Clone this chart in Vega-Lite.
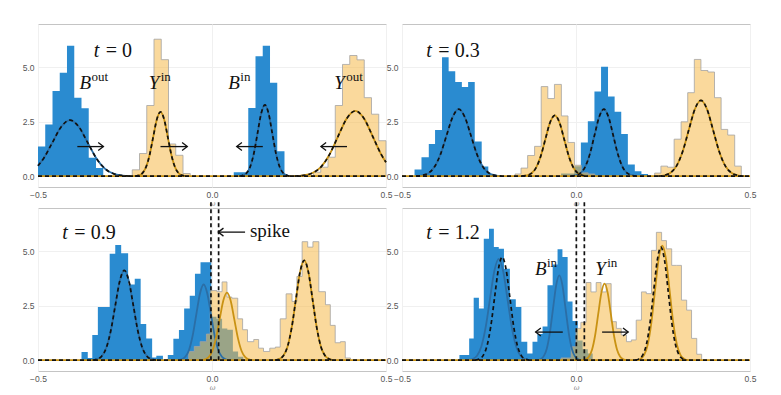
{
"$schema": "https://vega.github.io/schema/vega-lite/v6.json",
"autosize": {"type": "pad"},
"padding": {"left": 21, "top": 23, "right": 5, "bottom": 5},
"background": "white",
"data": {"values": [
{"k":"h","p":"a","g":"B1","x":-0.5,"y":1.36},{"k":"h","p":"a","g":"B1","x":-0.4792,"y":2.38},{"k":"h","p":"a","g":"B1","x":-0.4583,"y":3.92},{"k":"h","p":"a","g":"B1","x":-0.4375,"y":4.76},{"k":"h","p":"a","g":"B1","x":-0.4167,"y":6.0},{"k":"h","p":"a","g":"B1","x":-0.3958,"y":3.61},{"k":"h","p":"a","g":"B1","x":-0.375,"y":3.12},{"k":"h","p":"a","g":"B1","x":-0.3542,"y":0.85},{"k":"h","p":"a","g":"B1","x":-0.3333,"y":0.38},{"k":"h","p":"a","g":"B1","x":-0.3125,"y":0},
{"k":"h","p":"a","g":"Y1","x":-0.2292,"y":0.29},{"k":"h","p":"a","g":"Y1","x":-0.2083,"y":1.04},{"k":"h","p":"a","g":"Y1","x":-0.1875,"y":3.25},{"k":"h","p":"a","g":"Y1","x":-0.1667,"y":6.3},{"k":"h","p":"a","g":"Y1","x":-0.1458,"y":5.36},{"k":"h","p":"a","g":"Y1","x":-0.125,"y":1.48},{"k":"h","p":"a","g":"Y1","x":-0.1042,"y":0.96},{"k":"h","p":"a","g":"Y1","x":-0.0833,"y":0.12},{"k":"h","p":"a","g":"Y1","x":-0.0625,"y":0},
{"k":"h","p":"a","g":"B2","x":0.0625,"y":0.18},{"k":"h","p":"a","g":"B2","x":0.0833,"y":0.18},{"k":"h","p":"a","g":"B2","x":0.1042,"y":3.14},{"k":"h","p":"a","g":"B2","x":0.125,"y":5.52},{"k":"h","p":"a","g":"B2","x":0.1458,"y":6.0},{"k":"h","p":"a","g":"B2","x":0.1667,"y":4.3},{"k":"h","p":"a","g":"B2","x":0.1875,"y":1.14},{"k":"h","p":"a","g":"B2","x":0.2083,"y":0},
{"k":"h","p":"a","g":"Y2","x":0.2917,"y":0.18},{"k":"h","p":"a","g":"Y2","x":0.3125,"y":0.41},{"k":"h","p":"a","g":"Y2","x":0.3333,"y":0.87},{"k":"h","p":"a","g":"Y2","x":0.3542,"y":3.25},{"k":"h","p":"a","g":"Y2","x":0.375,"y":5.14},{"k":"h","p":"a","g":"Y2","x":0.3958,"y":5.55},{"k":"h","p":"a","g":"Y2","x":0.4167,"y":5.35},{"k":"h","p":"a","g":"Y2","x":0.4375,"y":3.61},{"k":"h","p":"a","g":"Y2","x":0.4583,"y":2.85},{"k":"h","p":"a","g":"Y2","x":0.4792,"y":1.63},{"k":"h","p":"a","g":"Y2","x":0.5,"y":0},

{"k":"h","p":"b","g":"B1","x":-0.464,"y":0.3},{"k":"h","p":"b","g":"B1","x":-0.444,"y":0.87},{"k":"h","p":"b","g":"B1","x":-0.423,"y":1.48},{"k":"h","p":"b","g":"B1","x":-0.405,"y":2.12},{"k":"h","p":"b","g":"B1","x":-0.385,"y":5.47},{"k":"h","p":"b","g":"B1","x":-0.366,"y":4.83},{"k":"h","p":"b","g":"B1","x":-0.347,"y":4.33},{"k":"h","p":"b","g":"B1","x":-0.328,"y":4.1},{"k":"h","p":"b","g":"B1","x":-0.31,"y":4.33},{"k":"h","p":"b","g":"B1","x":-0.291,"y":1.59},{"k":"h","p":"b","g":"B1","x":-0.271,"y":0.44},{"k":"h","p":"b","g":"B1","x":-0.252,"y":0.1},{"k":"h","p":"b","g":"B1","x":-0.233,"y":0},
{"k":"h","p":"b","g":"Y1","x":-0.175,"y":0.1},{"k":"h","p":"b","g":"Y1","x":-0.158,"y":0.37},{"k":"h","p":"b","g":"Y1","x":-0.139,"y":0.95},{"k":"h","p":"b","g":"Y1","x":-0.119,"y":1.37},{"k":"h","p":"b","g":"Y1","x":-0.1,"y":4.12},{"k":"h","p":"b","g":"Y1","x":-0.081,"y":3.57},{"k":"h","p":"b","g":"Y1","x":-0.062,"y":4.22},{"k":"h","p":"b","g":"Y1","x":-0.042,"y":2.77},{"k":"h","p":"b","g":"Y1","x":-0.023,"y":1.55},{"k":"h","p":"b","g":"Y1","x":-0.004,"y":0.5},{"k":"h","p":"b","g":"Y1","x":0.015,"y":0.15},{"k":"h","p":"b","g":"Y1","x":0.035,"y":0.1},{"k":"h","p":"b","g":"Y1","x":0.054,"y":0},
{"k":"h","p":"b","g":"B2","x":-0.043,"y":0.12},{"k":"h","p":"b","g":"B2","x":-0.024,"y":0.12},{"k":"h","p":"b","g":"B2","x":-0.005,"y":0.45},{"k":"h","p":"b","g":"B2","x":0.014,"y":1.55},{"k":"h","p":"b","g":"B2","x":0.034,"y":2.52},{"k":"h","p":"b","g":"B2","x":0.053,"y":3.89},{"k":"h","p":"b","g":"B2","x":0.072,"y":5.03},{"k":"h","p":"b","g":"B2","x":0.092,"y":3.66},{"k":"h","p":"b","g":"B2","x":0.111,"y":2.96},{"k":"h","p":"b","g":"B2","x":0.13,"y":1.94},{"k":"h","p":"b","g":"B2","x":0.149,"y":0.53},{"k":"h","p":"b","g":"B2","x":0.169,"y":0.23},{"k":"h","p":"b","g":"B2","x":0.188,"y":0.1},{"k":"h","p":"b","g":"B2","x":0.207,"y":0},
{"k":"h","p":"b","g":"Y2","x":0.226,"y":0.14},{"k":"h","p":"b","g":"Y2","x":0.244,"y":0.46},{"k":"h","p":"b","g":"Y2","x":0.263,"y":0.41},{"k":"h","p":"b","g":"Y2","x":0.282,"y":1.7},{"k":"h","p":"b","g":"Y2","x":0.302,"y":2.5},{"k":"h","p":"b","g":"Y2","x":0.321,"y":3.84},{"k":"h","p":"b","g":"Y2","x":0.34,"y":5.37},{"k":"h","p":"b","g":"Y2","x":0.359,"y":4.86},{"k":"h","p":"b","g":"Y2","x":0.379,"y":4.79},{"k":"h","p":"b","g":"Y2","x":0.398,"y":3.61},{"k":"h","p":"b","g":"Y2","x":0.417,"y":2.15},{"k":"h","p":"b","g":"Y2","x":0.436,"y":1.89},{"k":"h","p":"b","g":"Y2","x":0.456,"y":0.46},{"k":"h","p":"b","g":"Y2","x":0.475,"y":0},

{"k":"h","p":"c","g":"B","x":-0.375,"y":0.37},{"k":"h","p":"c","g":"B","x":-0.357,"y":0.1},{"k":"h","p":"c","g":"B","x":-0.344,"y":1.16},{"k":"h","p":"c","g":"B","x":-0.328,"y":2.45},{"k":"h","p":"c","g":"B","x":-0.311,"y":2.45},{"k":"h","p":"c","g":"B","x":-0.294,"y":4.9},{"k":"h","p":"c","g":"B","x":-0.278,"y":5.3},{"k":"h","p":"c","g":"B","x":-0.261,"y":4.92},{"k":"h","p":"c","g":"B","x":-0.241,"y":3.48},{"k":"h","p":"c","g":"B","x":-0.222,"y":3.75},{"k":"h","p":"c","g":"B","x":-0.205,"y":1.66},{"k":"h","p":"c","g":"B","x":-0.189,"y":1.0},{"k":"h","p":"c","g":"B","x":-0.172,"y":0.12},{"k":"h","p":"c","g":"B","x":-0.16,"y":0.2},{"k":"h","p":"c","g":"B","x":-0.141,"y":0},{"k":"h","p":"c","g":"B","x":-0.127,"y":0.24},{"k":"h","p":"c","g":"B","x":-0.111,"y":0.98},{"k":"h","p":"c","g":"B","x":-0.095,"y":1.39},{"k":"h","p":"c","g":"B","x":-0.08,"y":2.38},{"k":"h","p":"c","g":"B","x":-0.064,"y":2.96},{"k":"h","p":"c","g":"B","x":-0.049,"y":3.98},{"k":"h","p":"c","g":"B","x":-0.033,"y":4.5},{"k":"h","p":"c","g":"B","x":-0.018,"y":4.5},{"k":"h","p":"c","g":"B","x":-0.002,"y":2.0},{"k":"h","p":"c","g":"B","x":0.013,"y":1.9},{"k":"h","p":"c","g":"B","x":0.029,"y":1.45},{"k":"h","p":"c","g":"B","x":0.044,"y":1.4},{"k":"h","p":"c","g":"B","x":0.06,"y":0.4},{"k":"h","p":"c","g":"B","x":0.075,"y":0.15},{"k":"h","p":"c","g":"B","x":0.09,"y":0},
{"k":"h","p":"c","g":"Y","x":-0.067,"y":0.4},{"k":"h","p":"c","g":"Y","x":-0.051,"y":0.63},{"k":"h","p":"c","g":"Y","x":-0.034,"y":0.85},{"k":"h","p":"c","g":"Y","x":-0.016,"y":1.2},{"k":"h","p":"c","g":"Y","x":-0.005,"y":3.2},{"k":"h","p":"c","g":"Y","x":0.014,"y":3.15},{"k":"h","p":"c","g":"Y","x":0.029,"y":3.6},{"k":"h","p":"c","g":"Y","x":0.043,"y":2.9},{"k":"h","p":"c","g":"Y","x":0.057,"y":2.85},{"k":"h","p":"c","g":"Y","x":0.074,"y":1.9},{"k":"h","p":"c","g":"Y","x":0.088,"y":1.4},{"k":"h","p":"c","g":"Y","x":0.102,"y":0.85},{"k":"h","p":"c","g":"Y","x":0.12,"y":0.95},{"k":"h","p":"c","g":"Y","x":0.134,"y":0.55},{"k":"h","p":"c","g":"Y","x":0.148,"y":0.4},{"k":"h","p":"c","g":"Y","x":0.166,"y":0.55},{"k":"h","p":"c","g":"Y","x":0.182,"y":0.6},{"k":"h","p":"c","g":"Y","x":0.196,"y":1.9},{"k":"h","p":"c","g":"Y","x":0.213,"y":3.05},{"k":"h","p":"c","g":"Y","x":0.23,"y":2.7},{"k":"h","p":"c","g":"Y","x":0.244,"y":3.85},{"k":"h","p":"c","g":"Y","x":0.259,"y":5.45},{"k":"h","p":"c","g":"Y","x":0.275,"y":5.2},{"k":"h","p":"c","g":"Y","x":0.29,"y":5.45},{"k":"h","p":"c","g":"Y","x":0.307,"y":3.15},{"k":"h","p":"c","g":"Y","x":0.326,"y":2.55},{"k":"h","p":"c","g":"Y","x":0.34,"y":1.6},{"k":"h","p":"c","g":"Y","x":0.354,"y":0.8},{"k":"h","p":"c","g":"Y","x":0.369,"y":0.85},{"k":"h","p":"c","g":"Y","x":0.383,"y":0.1},{"k":"h","p":"c","g":"Y","x":0.398,"y":0},

{"k":"h","p":"d","g":"B","x":-0.335,"y":0.24},{"k":"h","p":"d","g":"B","x":-0.307,"y":1.0},{"k":"h","p":"d","g":"B","x":-0.294,"y":2.87},{"k":"h","p":"d","g":"B","x":-0.279,"y":2.38},{"k":"h","p":"d","g":"B","x":-0.265,"y":5.58},{"k":"h","p":"d","g":"B","x":-0.25,"y":6.04},{"k":"h","p":"d","g":"B","x":-0.236,"y":5.2},{"k":"h","p":"d","g":"B","x":-0.222,"y":5.12},{"k":"h","p":"d","g":"B","x":-0.207,"y":4.2},{"k":"h","p":"d","g":"B","x":-0.19,"y":2.8},{"k":"h","p":"d","g":"B","x":-0.173,"y":2.45},{"k":"h","p":"d","g":"B","x":-0.157,"y":0.85},{"k":"h","p":"d","g":"B","x":-0.14,"y":0.3},{"k":"h","p":"d","g":"B","x":-0.125,"y":0.85},{"k":"h","p":"d","g":"B","x":-0.111,"y":1.2},{"k":"h","p":"d","g":"B","x":-0.096,"y":1.55},{"k":"h","p":"d","g":"B","x":-0.082,"y":3.44},{"k":"h","p":"d","g":"B","x":-0.067,"y":4.4},{"k":"h","p":"d","g":"B","x":-0.053,"y":5.1},{"k":"h","p":"d","g":"B","x":-0.039,"y":4.75},{"k":"h","p":"d","g":"B","x":-0.024,"y":2.7},{"k":"h","p":"d","g":"B","x":-0.01,"y":1.8},{"k":"h","p":"d","g":"B","x":0.005,"y":0.9},{"k":"h","p":"d","g":"B","x":0.019,"y":0.5},{"k":"h","p":"d","g":"B","x":0.034,"y":0.3},{"k":"h","p":"d","g":"B","x":0.048,"y":0},
{"k":"h","p":"d","g":"Y","x":-0.043,"y":0.1},{"k":"h","p":"d","g":"Y","x":-0.014,"y":0.62},{"k":"h","p":"d","g":"Y","x":0.0,"y":1.46},{"k":"h","p":"d","g":"Y","x":0.014,"y":1.74},{"k":"h","p":"d","g":"Y","x":0.029,"y":3.57},{"k":"h","p":"d","g":"Y","x":0.043,"y":3.14},{"k":"h","p":"d","g":"Y","x":0.058,"y":3.57},{"k":"h","p":"d","g":"Y","x":0.072,"y":3.14},{"k":"h","p":"d","g":"Y","x":0.087,"y":3.52},{"k":"h","p":"d","g":"Y","x":0.101,"y":1.77},{"k":"h","p":"d","g":"Y","x":0.116,"y":1.46},{"k":"h","p":"d","g":"Y","x":0.13,"y":1.16},{"k":"h","p":"d","g":"Y","x":0.145,"y":0.85},{"k":"h","p":"d","g":"Y","x":0.159,"y":0.93},{"k":"h","p":"d","g":"Y","x":0.173,"y":1.84},{"k":"h","p":"d","g":"Y","x":0.188,"y":3.14},{"k":"h","p":"d","g":"Y","x":0.202,"y":3.06},{"k":"h","p":"d","g":"Y","x":0.217,"y":5.05},{"k":"h","p":"d","g":"Y","x":0.231,"y":5.88},{"k":"h","p":"d","g":"Y","x":0.246,"y":5.5},{"k":"h","p":"d","g":"Y","x":0.26,"y":5.12},{"k":"h","p":"d","g":"Y","x":0.275,"y":4.36},{"k":"h","p":"d","g":"Y","x":0.289,"y":4.36},{"k":"h","p":"d","g":"Y","x":0.303,"y":2.76},{"k":"h","p":"d","g":"Y","x":0.318,"y":2.3},{"k":"h","p":"d","g":"Y","x":0.332,"y":1.0},{"k":"h","p":"d","g":"Y","x":0.347,"y":0.27},{"k":"h","p":"d","g":"Y","x":0.361,"y":0},

{"k":"b","p":"a","g":"B1","x":-0.5,"y":0.475},{"k":"b","p":"a","g":"B1","x":-0.483,"y":0.838},{"k":"b","p":"a","g":"B1","x":-0.458,"y":1.566},{"k":"b","p":"a","g":"B1","x":-0.433,"y":2.276},{"k":"b","p":"a","g":"B1","x":-0.408,"y":2.58},{"k":"b","p":"a","g":"B1","x":-0.383,"y":2.276},{"k":"b","p":"a","g":"B1","x":-0.358,"y":1.566},{"k":"b","p":"a","g":"B1","x":-0.333,"y":0.838},{"k":"b","p":"a","g":"B1","x":-0.308,"y":0.349},{"k":"b","p":"a","g":"B1","x":-0.283,"y":0.113},{"k":"b","p":"a","g":"B1","x":-0.258,"y":0.028},{"k":"b","p":"a","g":"B1","x":-0.233,"y":0},
{"k":"b","p":"a","g":"Y1","x":-0.2215,"y":0},{"k":"b","p":"a","g":"Y1","x":-0.211,"y":0.033},{"k":"b","p":"a","g":"Y1","x":-0.2005,"y":0.13},{"k":"b","p":"a","g":"Y1","x":-0.19,"y":0.4},{"k":"b","p":"a","g":"Y1","x":-0.1795,"y":0.962},{"k":"b","p":"a","g":"Y1","x":-0.169,"y":1.797},{"k":"b","p":"a","g":"Y1","x":-0.1585,"y":2.611},{"k":"b","p":"a","g":"Y1","x":-0.148,"y":2.96},{"k":"b","p":"a","g":"Y1","x":-0.1375,"y":2.611},{"k":"b","p":"a","g":"Y1","x":-0.127,"y":1.797},{"k":"b","p":"a","g":"Y1","x":-0.1165,"y":0.962},{"k":"b","p":"a","g":"Y1","x":-0.106,"y":0.4},{"k":"b","p":"a","g":"Y1","x":-0.0955,"y":0.13},{"k":"b","p":"a","g":"Y1","x":-0.085,"y":0.033},{"k":"b","p":"a","g":"Y1","x":-0.0745,"y":0},
{"k":"b","p":"a","g":"B2","x":0.0785,"y":0},{"k":"b","p":"a","g":"B2","x":0.089,"y":0.036},{"k":"b","p":"a","g":"B2","x":0.0995,"y":0.144},{"k":"b","p":"a","g":"B2","x":0.11,"y":0.443},{"k":"b","p":"a","g":"B2","x":0.1205,"y":1.066},{"k":"b","p":"a","g":"B2","x":0.131,"y":1.991},{"k":"b","p":"a","g":"B2","x":0.1415,"y":2.893},{"k":"b","p":"a","g":"B2","x":0.152,"y":3.28},{"k":"b","p":"a","g":"B2","x":0.1625,"y":2.893},{"k":"b","p":"a","g":"B2","x":0.173,"y":1.991},{"k":"b","p":"a","g":"B2","x":0.1835,"y":1.066},{"k":"b","p":"a","g":"B2","x":0.194,"y":0.443},{"k":"b","p":"a","g":"B2","x":0.2045,"y":0.144},{"k":"b","p":"a","g":"B2","x":0.215,"y":0.036},{"k":"b","p":"a","g":"B2","x":0.2255,"y":0},
{"k":"b","p":"a","g":"Y2","x":0.237,"y":0},{"k":"b","p":"a","g":"Y2","x":0.262,"y":0.033},{"k":"b","p":"a","g":"Y2","x":0.287,"y":0.132},{"k":"b","p":"a","g":"Y2","x":0.312,"y":0.405},{"k":"b","p":"a","g":"Y2","x":0.337,"y":0.975},{"k":"b","p":"a","g":"Y2","x":0.362,"y":1.821},{"k":"b","p":"a","g":"Y2","x":0.387,"y":2.646},{"k":"b","p":"a","g":"Y2","x":0.412,"y":3.0},{"k":"b","p":"a","g":"Y2","x":0.437,"y":2.646},{"k":"b","p":"a","g":"Y2","x":0.462,"y":1.821},{"k":"b","p":"a","g":"Y2","x":0.487,"y":0.975},{"k":"b","p":"a","g":"Y2","x":0.5,"y":0.637},

{"k":"b","p":"b","g":"B1","x":-0.4595,"y":0},{"k":"b","p":"b","g":"B1","x":-0.442,"y":0.034},{"k":"b","p":"b","g":"B1","x":-0.4245,"y":0.136},{"k":"b","p":"b","g":"B1","x":-0.407,"y":0.416},{"k":"b","p":"b","g":"B1","x":-0.3895,"y":1.001},{"k":"b","p":"b","g":"B1","x":-0.372,"y":1.87},{"k":"b","p":"b","g":"B1","x":-0.3545,"y":2.717},{"k":"b","p":"b","g":"B1","x":-0.337,"y":3.08},{"k":"b","p":"b","g":"B1","x":-0.3195,"y":2.717},{"k":"b","p":"b","g":"B1","x":-0.302,"y":1.87},{"k":"b","p":"b","g":"B1","x":-0.2845,"y":1.001},{"k":"b","p":"b","g":"B1","x":-0.267,"y":0.416},{"k":"b","p":"b","g":"B1","x":-0.2495,"y":0.136},{"k":"b","p":"b","g":"B1","x":-0.232,"y":0.034},{"k":"b","p":"b","g":"B1","x":-0.2145,"y":0},
{"k":"b","p":"b","g":"Y1","x":-0.1555,"y":0},{"k":"b","p":"b","g":"Y1","x":-0.142,"y":0.031},{"k":"b","p":"b","g":"Y1","x":-0.1285,"y":0.123},{"k":"b","p":"b","g":"Y1","x":-0.115,"y":0.378},{"k":"b","p":"b","g":"Y1","x":-0.1015,"y":0.91},{"k":"b","p":"b","g":"Y1","x":-0.088,"y":1.7},{"k":"b","p":"b","g":"Y1","x":-0.0745,"y":2.47},{"k":"b","p":"b","g":"Y1","x":-0.061,"y":2.8},{"k":"b","p":"b","g":"Y1","x":-0.0475,"y":2.47},{"k":"b","p":"b","g":"Y1","x":-0.034,"y":1.7},{"k":"b","p":"b","g":"Y1","x":-0.0205,"y":0.91},{"k":"b","p":"b","g":"Y1","x":-0.007,"y":0.378},{"k":"b","p":"b","g":"Y1","x":0.0065,"y":0.123},{"k":"b","p":"b","g":"Y1","x":0.02,"y":0.031},{"k":"b","p":"b","g":"Y1","x":0.0335,"y":0},
{"k":"b","p":"b","g":"B2","x":-0.0145,"y":0},{"k":"b","p":"b","g":"B2","x":-0.001,"y":0.034},{"k":"b","p":"b","g":"B2","x":0.0125,"y":0.136},{"k":"b","p":"b","g":"B2","x":0.026,"y":0.416},{"k":"b","p":"b","g":"B2","x":0.0395,"y":1.001},{"k":"b","p":"b","g":"B2","x":0.053,"y":1.87},{"k":"b","p":"b","g":"B2","x":0.0665,"y":2.717},{"k":"b","p":"b","g":"B2","x":0.08,"y":3.08},{"k":"b","p":"b","g":"B2","x":0.0935,"y":2.717},{"k":"b","p":"b","g":"B2","x":0.107,"y":1.87},{"k":"b","p":"b","g":"B2","x":0.1205,"y":1.001},{"k":"b","p":"b","g":"B2","x":0.134,"y":0.416},{"k":"b","p":"b","g":"B2","x":0.1475,"y":0.136},{"k":"b","p":"b","g":"B2","x":0.161,"y":0.034},{"k":"b","p":"b","g":"B2","x":0.1745,"y":0},
{"k":"b","p":"b","g":"Y2","x":0.2365,"y":0},{"k":"b","p":"b","g":"Y2","x":0.254,"y":0.038},{"k":"b","p":"b","g":"Y2","x":0.2715,"y":0.154},{"k":"b","p":"b","g":"Y2","x":0.289,"y":0.471},{"k":"b","p":"b","g":"Y2","x":0.3065,"y":1.134},{"k":"b","p":"b","g":"Y2","x":0.324,"y":2.118},{"k":"b","p":"b","g":"Y2","x":0.3415,"y":3.078},{"k":"b","p":"b","g":"Y2","x":0.359,"y":3.49},{"k":"b","p":"b","g":"Y2","x":0.3765,"y":3.078},{"k":"b","p":"b","g":"Y2","x":0.394,"y":2.118},{"k":"b","p":"b","g":"Y2","x":0.4115,"y":1.134},{"k":"b","p":"b","g":"Y2","x":0.429,"y":0.471},{"k":"b","p":"b","g":"Y2","x":0.4465,"y":0.154},{"k":"b","p":"b","g":"Y2","x":0.464,"y":0.038},{"k":"b","p":"b","g":"Y2","x":0.4815,"y":0},

{"k":"b","p":"c","g":"B1","x":-0.343,"y":0},{"k":"b","p":"c","g":"B1","x":-0.33,"y":0.045},{"k":"b","p":"c","g":"B1","x":-0.317,"y":0.182},{"k":"b","p":"c","g":"B1","x":-0.304,"y":0.558},{"k":"b","p":"c","g":"B1","x":-0.291,"y":1.342},{"k":"b","p":"c","g":"B1","x":-0.278,"y":2.507},{"k":"b","p":"c","g":"B1","x":-0.265,"y":3.643},{"k":"b","p":"c","g":"B1","x":-0.252,"y":4.13},{"k":"b","p":"c","g":"B1","x":-0.239,"y":3.643},{"k":"b","p":"c","g":"B1","x":-0.226,"y":2.507},{"k":"b","p":"c","g":"B1","x":-0.213,"y":1.342},{"k":"b","p":"c","g":"B1","x":-0.2,"y":0.558},{"k":"b","p":"c","g":"B1","x":-0.187,"y":0.182},{"k":"b","p":"c","g":"B1","x":-0.174,"y":0.045},{"k":"b","p":"c","g":"B1","x":-0.161,"y":0},
{"k":"s","p":"c","g":"B2","x":-0.0975,"y":0},{"k":"s","p":"c","g":"B2","x":-0.087,"y":0.038},{"k":"s","p":"c","g":"B2","x":-0.0765,"y":0.153},{"k":"s","p":"c","g":"B2","x":-0.066,"y":0.47},{"k":"s","p":"c","g":"B2","x":-0.0555,"y":1.131},{"k":"s","p":"c","g":"B2","x":-0.045,"y":2.112},{"k":"s","p":"c","g":"B2","x":-0.0345,"y":3.069},{"k":"s","p":"c","g":"B2","x":-0.024,"y":3.48},{"k":"s","p":"c","g":"B2","x":-0.0135,"y":3.069},{"k":"s","p":"c","g":"B2","x":-0.003,"y":2.112},{"k":"s","p":"c","g":"B2","x":0.0075,"y":1.131},{"k":"s","p":"c","g":"B2","x":0.018,"y":0.47},{"k":"s","p":"c","g":"B2","x":0.0285,"y":0.153},{"k":"s","p":"c","g":"B2","x":0.039,"y":0.038},{"k":"s","p":"c","g":"B2","x":0.0495,"y":0},
{"k":"s","p":"c","g":"Y1","x":-0.0305,"y":0},{"k":"s","p":"c","g":"Y1","x":-0.02,"y":0.034},{"k":"s","p":"c","g":"Y1","x":-0.0095,"y":0.137},{"k":"s","p":"c","g":"Y1","x":0.001,"y":0.42},{"k":"s","p":"c","g":"Y1","x":0.0115,"y":1.011},{"k":"s","p":"c","g":"Y1","x":0.022,"y":1.888},{"k":"s","p":"c","g":"Y1","x":0.0325,"y":2.743},{"k":"s","p":"c","g":"Y1","x":0.043,"y":3.11},{"k":"s","p":"c","g":"Y1","x":0.0535,"y":2.743},{"k":"s","p":"c","g":"Y1","x":0.064,"y":1.888},{"k":"s","p":"c","g":"Y1","x":0.0745,"y":1.011},{"k":"s","p":"c","g":"Y1","x":0.085,"y":0.42},{"k":"s","p":"c","g":"Y1","x":0.0955,"y":0.137},{"k":"s","p":"c","g":"Y1","x":0.106,"y":0.034},{"k":"s","p":"c","g":"Y1","x":0.1165,"y":0},
{"k":"b","p":"c","g":"Y2","x":0.181,"y":0},{"k":"b","p":"c","g":"Y2","x":0.193,"y":0.05},{"k":"b","p":"c","g":"Y2","x":0.205,"y":0.202},{"k":"b","p":"c","g":"Y2","x":0.217,"y":0.62},{"k":"b","p":"c","g":"Y2","x":0.229,"y":1.492},{"k":"b","p":"c","g":"Y2","x":0.241,"y":2.786},{"k":"b","p":"c","g":"Y2","x":0.253,"y":4.048},{"k":"b","p":"c","g":"Y2","x":0.265,"y":4.59},{"k":"b","p":"c","g":"Y2","x":0.277,"y":4.048},{"k":"b","p":"c","g":"Y2","x":0.289,"y":2.786},{"k":"b","p":"c","g":"Y2","x":0.301,"y":1.492},{"k":"b","p":"c","g":"Y2","x":0.313,"y":0.62},{"k":"b","p":"c","g":"Y2","x":0.325,"y":0.202},{"k":"b","p":"c","g":"Y2","x":0.337,"y":0.05},{"k":"b","p":"c","g":"Y2","x":0.349,"y":0},

{"k":"s","p":"d","g":"B1","x":-0.3095,"y":0},{"k":"s","p":"d","g":"B1","x":-0.297,"y":0.051},{"k":"s","p":"d","g":"B1","x":-0.2845,"y":0.205},{"k":"s","p":"d","g":"B1","x":-0.272,"y":0.629},{"k":"s","p":"d","g":"B1","x":-0.2595,"y":1.515},{"k":"s","p":"d","g":"B1","x":-0.247,"y":2.829},{"k":"s","p":"d","g":"B1","x":-0.2345,"y":4.11},{"k":"s","p":"d","g":"B1","x":-0.222,"y":4.66},{"k":"s","p":"d","g":"B1","x":-0.2095,"y":4.11},{"k":"s","p":"d","g":"B1","x":-0.197,"y":2.829},{"k":"s","p":"d","g":"B1","x":-0.1845,"y":1.515},{"k":"s","p":"d","g":"B1","x":-0.172,"y":0.629},{"k":"s","p":"d","g":"B1","x":-0.1595,"y":0.205},{"k":"s","p":"d","g":"B1","x":-0.147,"y":0.051},{"k":"s","p":"d","g":"B1","x":-0.1345,"y":0},
{"k":"d","p":"d","g":"B1","x":-0.289,"y":0},{"k":"d","p":"d","g":"B1","x":-0.278,"y":0.052},{"k":"d","p":"d","g":"B1","x":-0.267,"y":0.209},{"k":"d","p":"d","g":"B1","x":-0.256,"y":0.64},{"k":"d","p":"d","g":"B1","x":-0.245,"y":1.541},{"k":"d","p":"d","g":"B1","x":-0.234,"y":2.877},{"k":"d","p":"d","g":"B1","x":-0.223,"y":4.181},{"k":"d","p":"d","g":"B1","x":-0.212,"y":4.74},{"k":"d","p":"d","g":"B1","x":-0.201,"y":4.181},{"k":"d","p":"d","g":"B1","x":-0.19,"y":2.877},{"k":"d","p":"d","g":"B1","x":-0.179,"y":1.541},{"k":"d","p":"d","g":"B1","x":-0.168,"y":0.64},{"k":"d","p":"d","g":"B1","x":-0.157,"y":0.209},{"k":"d","p":"d","g":"B1","x":-0.146,"y":0.052},{"k":"d","p":"d","g":"B1","x":-0.135,"y":0},
{"k":"s","p":"d","g":"B2","x":-0.111,"y":0},{"k":"s","p":"d","g":"B2","x":-0.102,"y":0.043},{"k":"s","p":"d","g":"B2","x":-0.093,"y":0.172},{"k":"s","p":"d","g":"B2","x":-0.084,"y":0.527},{"k":"s","p":"d","g":"B2","x":-0.075,"y":1.268},{"k":"s","p":"d","g":"B2","x":-0.066,"y":2.367},{"k":"s","p":"d","g":"B2","x":-0.057,"y":3.44},{"k":"s","p":"d","g":"B2","x":-0.048,"y":3.9},{"k":"s","p":"d","g":"B2","x":-0.039,"y":3.44},{"k":"s","p":"d","g":"B2","x":-0.03,"y":2.367},{"k":"s","p":"d","g":"B2","x":-0.021,"y":1.268},{"k":"s","p":"d","g":"B2","x":-0.012,"y":0.527},{"k":"s","p":"d","g":"B2","x":-0.003,"y":0.172},{"k":"s","p":"d","g":"B2","x":0.006,"y":0.043},{"k":"s","p":"d","g":"B2","x":0.015,"y":0},
{"k":"s","p":"d","g":"Y1","x":0.019,"y":0},{"k":"s","p":"d","g":"Y1","x":0.028,"y":0.039},{"k":"s","p":"d","g":"Y1","x":0.037,"y":0.155},{"k":"s","p":"d","g":"Y1","x":0.046,"y":0.475},{"k":"s","p":"d","g":"Y1","x":0.055,"y":1.144},{"k":"s","p":"d","g":"Y1","x":0.064,"y":2.137},{"k":"s","p":"d","g":"Y1","x":0.073,"y":3.105},{"k":"s","p":"d","g":"Y1","x":0.082,"y":3.52},{"k":"s","p":"d","g":"Y1","x":0.091,"y":3.105},{"k":"s","p":"d","g":"Y1","x":0.1,"y":2.137},{"k":"s","p":"d","g":"Y1","x":0.109,"y":1.144},{"k":"s","p":"d","g":"Y1","x":0.118,"y":0.475},{"k":"s","p":"d","g":"Y1","x":0.127,"y":0.155},{"k":"s","p":"d","g":"Y1","x":0.136,"y":0.039},{"k":"s","p":"d","g":"Y1","x":0.145,"y":0},
{"k":"s","p":"d","g":"Y2","x":0.1745,"y":0},{"k":"s","p":"d","g":"Y2","x":0.185,"y":0.058},{"k":"s","p":"d","g":"Y2","x":0.1955,"y":0.232},{"k":"s","p":"d","g":"Y2","x":0.206,"y":0.711},{"k":"s","p":"d","g":"Y2","x":0.2165,"y":1.713},{"k":"s","p":"d","g":"Y2","x":0.227,"y":3.199},{"k":"s","p":"d","g":"Y2","x":0.2375,"y":4.648},{"k":"s","p":"d","g":"Y2","x":0.248,"y":5.27},{"k":"s","p":"d","g":"Y2","x":0.2585,"y":4.648},{"k":"s","p":"d","g":"Y2","x":0.269,"y":3.199},{"k":"s","p":"d","g":"Y2","x":0.2795,"y":1.713},{"k":"s","p":"d","g":"Y2","x":0.29,"y":0.711},{"k":"s","p":"d","g":"Y2","x":0.3005,"y":0.232},{"k":"s","p":"d","g":"Y2","x":0.311,"y":0.058},{"k":"s","p":"d","g":"Y2","x":0.3215,"y":0},
{"k":"d","p":"d","g":"Y2","x":0.1705,"y":0},{"k":"d","p":"d","g":"Y2","x":0.181,"y":0.057},{"k":"d","p":"d","g":"Y2","x":0.1915,"y":0.229},{"k":"d","p":"d","g":"Y2","x":0.202,"y":0.702},{"k":"d","p":"d","g":"Y2","x":0.2125,"y":1.69},{"k":"d","p":"d","g":"Y2","x":0.223,"y":3.156},{"k":"d","p":"d","g":"Y2","x":0.2335,"y":4.586},{"k":"d","p":"d","g":"Y2","x":0.244,"y":5.2},{"k":"d","p":"d","g":"Y2","x":0.2545,"y":4.586},{"k":"d","p":"d","g":"Y2","x":0.265,"y":3.156},{"k":"d","p":"d","g":"Y2","x":0.2755,"y":1.69},{"k":"d","p":"d","g":"Y2","x":0.286,"y":0.702},{"k":"d","p":"d","g":"Y2","x":0.2965,"y":0.229},{"k":"d","p":"d","g":"Y2","x":0.307,"y":0.057},{"k":"d","p":"d","g":"Y2","x":0.3175,"y":0},

{"k":"sp","p":"c","x":-0.003,"y":0,"y2":7.35},{"k":"sp","p":"c","x":0.019,"y":0,"y2":7.35},
{"k":"sp","p":"d","x":0.001,"y":0,"y2":7.35},{"k":"sp","p":"d","x":0.024,"y":0,"y2":7.35},

{"k":"ar","p":"a","x":-0.387,"x2":-0.312,"y":1.36,"d":"r"},{"k":"ar","p":"a","x":-0.148,"x2":-0.071,"y":1.36,"d":"r"},{"k":"ar","p":"a","x":0.146,"x2":0.071,"y":1.36,"d":"l"},{"k":"ar","p":"a","x":0.388,"x2":0.313,"y":1.36,"d":"l"},
{"k":"ar","p":"c","x":0.095,"x2":0.018,"y":5.89,"d":"l"},
{"k":"ar","p":"d","x":-0.038,"x2":-0.116,"y":1.29,"d":"l"},{"k":"ar","p":"d","x":0.075,"x2":0.15,"y":1.29,"d":"r"},

{"k":"t","p":"a","x":-0.34,"y":5.5,"v":"= 0"},{"k":"t","p":"b","x":-0.43,"y":5.5,"v":"= 0.3"},{"k":"t","p":"c","x":-0.43,"y":5.56,"v":"= 0.9"},{"k":"t","p":"d","x":-0.43,"y":5.56,"v":"= 1.2"},

{"k":"lb","p":"a","x":-0.381,"y":3.99,"m":"B","s":"out"},{"k":"lb","p":"a","x":-0.182,"y":3.99,"m":"Y","s":"in"},{"k":"lb","p":"a","x":0.047,"y":3.99,"m":"B","s":"in"},{"k":"lb","p":"a","x":0.351,"y":3.99,"m":"Y","s":"out"},
{"k":"lb","p":"d","x":-0.118,"y":3.94,"m":"B","s":"in"},{"k":"lb","p":"d","x":0.055,"y":3.94,"m":"Y","s":"in"},

{"k":"tx","p":"c","x":0.109,"y":5.68,"v":"spike"}
]},
"facet": {"field": "p", "type": "nominal", "title": null, "header": {"title": null, "labels": false, "labelExpr": "''", "labelFontSize": 0, "labelPadding": 0, "titlePadding": 0, "labelColor": "transparent"}},
"columns": 2,
"spacing": {"row": 21, "column": 16},
"bounds": "flush",
"resolve": {"axis": {"x": "independent", "y": "independent"}},
"spec": {
  "width": 348,
  "height": 163,
  "encoding": {
    "x": {"field": "x", "type": "quantitative", "scale": {"domain": [-0.5, 0.5], "nice": false, "zero": false}, "axis": {"values": [-0.5, 0, 0.5], "format": ".1f", "title": "ω"}},
    "y": {"field": "y", "type": "quantitative", "scale": {"domain": [-0.5, 7], "nice": false, "zero": false}, "axis": {"values": [0, 2.5, 5], "format": ".1f", "title": null}}
  },
  "layer": [
    {"transform": [{"filter": "datum.k=='h'&&datum.g[0]=='B'"}],
     "mark": {"type": "area", "interpolate": "step-after", "fill": "#2a8bd0", "opacity": 1},
     "encoding": {"y2": {"datum": 0}, "detail": {"field": "g"}}},
    {"transform": [{"filter": "datum.k=='h'&&datum.g[0]=='Y'"}],
     "mark": {"type": "area", "interpolate": "step-after", "fill": "#f5b94a", "fillOpacity": 0.55, "stroke": "#a3a3a3", "strokeWidth": 0.8, "opacity": 1},
     "encoding": {"y2": {"datum": 0}, "detail": {"field": "g"}}},
    {"transform": [{"filter": "(datum.k=='s'||datum.k=='b')&&datum.g[0]=='B'"}],
     "mark": {"type": "line", "interpolate": "monotone", "stroke": "#2b6ea6", "strokeWidth": 1.8},
     "encoding": {"detail": {"field": "g"}}},
    {"transform": [{"filter": "(datum.k=='s'||datum.k=='b')&&datum.g[0]=='Y'"}],
     "mark": {"type": "line", "interpolate": "monotone", "stroke": "#c99213", "strokeWidth": 1.8},
     "encoding": {"detail": {"field": "g"}}},
    {"transform": [{"filter": "datum.k=='t'"}],
     "mark": {"type": "rule", "stroke": "#c99213", "strokeWidth": 1.6},
     "encoding": {"x": {"datum": -0.5}, "x2": {"datum": 0.5}, "y": {"datum": 0}}},
    {"transform": [{"filter": "datum.k=='t'"}],
     "mark": {"type": "rule", "stroke": "#111111", "strokeWidth": 1.6, "strokeDash": [4, 3]},
     "encoding": {"x": {"datum": -0.5}, "x2": {"datum": 0.5}, "y": {"datum": 0}}},
    {"transform": [{"filter": "datum.k=='d'||datum.k=='b'"}],
     "mark": {"type": "line", "interpolate": "monotone", "stroke": "#111111", "strokeWidth": 1.7, "strokeDash": [4, 3]},
     "encoding": {"detail": {"field": "g"}}},
    {"transform": [{"filter": "datum.k=='sp'"}],
     "mark": {"type": "rule", "stroke": "#111111", "strokeWidth": 1.7, "strokeDash": [4, 3], "clip": false},
     "encoding": {"y2": {"field": "y2"}}},
    {"transform": [{"filter": "datum.k=='ar'"}],
     "mark": {"type": "rule", "stroke": "#111111", "strokeWidth": 1.3},
     "encoding": {"x2": {"field": "x2"}}},
    {"transform": [{"filter": "datum.k=='ar'"}],
     "mark": {"type": "point", "filled": false, "stroke": "#111111", "strokeWidth": 1.3, "size": 64, "opacity": 1},
     "encoding": {
       "x": {"field": "x2", "type": "quantitative", "scale": {"domain": [-0.5, 0.5], "nice": false, "zero": false}, "axis": {"values": [-0.5, 0, 0.5], "format": ".1f", "title": "ω"}},
       "shape": {"field": "d", "type": "nominal", "scale": {"domain": ["r", "l"], "range": ["M-1.3,-1L0,0L-1.3,1", "M1.3,-1L0,0L1.3,1"]}, "legend": null}}},
    {"transform": [{"filter": "datum.k=='t'"}],
     "mark": {"type": "text", "text": "t", "font": "Liberation Serif", "fontStyle": "italic", "fontSize": 20, "align": "left", "baseline": "alphabetic", "color": "#111111"}},
    {"transform": [{"filter": "datum.k=='t'"}],
     "mark": {"type": "text", "font": "Liberation Serif", "fontSize": 20, "align": "left", "baseline": "alphabetic", "dx": 12, "color": "#111111"},
     "encoding": {"text": {"field": "v"}}},
    {"transform": [{"filter": "datum.k=='tx'"}],
     "mark": {"type": "text", "font": "Liberation Serif", "fontSize": 19, "align": "left", "baseline": "alphabetic", "color": "#111111"},
     "encoding": {"text": {"field": "v"}}},
    {"transform": [{"filter": "datum.k=='lb'"}],
     "mark": {"type": "text", "font": "Liberation Serif", "fontStyle": "italic", "fontSize": 19, "align": "left", "baseline": "alphabetic", "color": "#111111"},
     "encoding": {"text": {"field": "m"}}},
    {"transform": [{"filter": "datum.k=='lb'"}],
     "mark": {"type": "text", "font": "Liberation Serif", "fontSize": 13, "align": "left", "baseline": "alphabetic", "dx": 12, "dy": -8, "color": "#111111"},
     "encoding": {"text": {"field": "s"}}}
  ]
},
"config": {
  "view": {"stroke": "#c4c4c4", "strokeWidth": 1},
  "header": {"labels": false, "title": null, "labelExpr": "''", "labelFontSize": 0, "labelPadding": 0, "labelColor": "transparent"},
  "headerFacet": {"labels": false, "title": null, "labelExpr": "''", "labelFontSize": 0, "labelPadding": 0, "labelColor": "transparent"},
  "axis": {"grid": true, "gridColor": "#f0f0f0", "gridWidth": 1, "domain": false, "ticks": false, "tickSize": 0, "labelFont": "Liberation Sans", "labelFontSize": 8.5, "labelColor": "#555555", "titleFont": "DejaVu Serif", "titleFontSize": 7, "titleFontStyle": "italic", "titleFontWeight": "normal", "titleColor": "#888888"},
  "axisX": {"labelFlush": false, "labelPadding": 3, "titlePadding": 1, "labelOverlap": false},
  "axisY": {"labelPadding": 4}
}
}
